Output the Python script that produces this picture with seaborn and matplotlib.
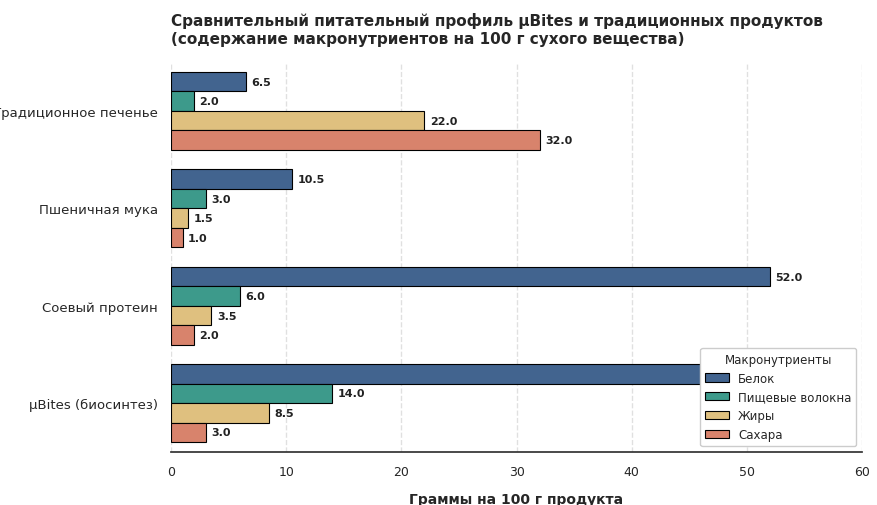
import matplotlib.pyplot as plt
import seaborn as sns
import pandas as pd

products = ["Традиционное печенье", "Пшеничная мука", "Соевый протеин", "µBites (биосинтез)"]
nutrients = ["Белок", "Пищевые волокна", "Жиры", "Сахара"]
protein = [6.5, 10.5, 52.0, 46.0]
fiber = [2.0, 3.0, 6.0, 14.0]
fat = [22.0, 1.5, 3.5, 8.5]
sugar = [32.0, 1.0, 2.0, 3.0]

rows = []
for i, p in enumerate(products):
    for n, vals in zip(nutrients, [protein, fiber, fat, sugar]):
        rows.append({"Продукт": p, "Макронутриенты": n, "Граммы": vals[i]})
df = pd.DataFrame(rows)

sns.set_theme(style="whitegrid")
plt.rcParams['font.family'] = ['DejaVu Sans']

palette = ["#42648f", "#3d9a8b", "#dfc07f", "#d8836c"]
fig, ax = plt.subplots(figsize=(8.77, 5.06), dpi=100)
sns.barplot(data=df, y="Продукт", x="Граммы", hue="Макронутриенты", saturation=1,
            palette=palette, edgecolor="black", linewidth=0.8, orient="h", ax=ax)

for c in ax.containers:
    ax.bar_label(c, fmt="%.1f", padding=4, fontsize=8, fontweight="bold", color="#222222")

ax.set_xlim(0, 60)
ax.grid(axis="x", linestyle="--", alpha=0.6)
ax.grid(axis="y", visible=False)
for s in ["top", "right", "left"]:
    ax.spines[s].set_visible(False)
ax.spines["bottom"].set_color("#333333")
ax.set_ylabel("")
ax.set_xlabel("Граммы на 100 г продукта", fontsize=10, fontweight="bold", labelpad=10)
ax.tick_params(axis="y", labelsize=9.5)
ax.tick_params(axis="x", labelsize=9)
ax.set_title("Сравнительный питательный профиль µBites и традиционных продуктов\n"
             "(содержание макронутриентов на 100 г сухого вещества)",
             fontsize=11, fontweight="bold", loc="left", pad=14)
ax.legend(title="Макронутриенты", loc="lower right", fontsize=8.5, title_fontsize=8.5,
          frameon=True, facecolor="white", framealpha=1)
fig.subplots_adjust(left=0.195, right=0.983, top=0.875, bottom=0.105)
plt.savefig("out.png", dpi=100)
